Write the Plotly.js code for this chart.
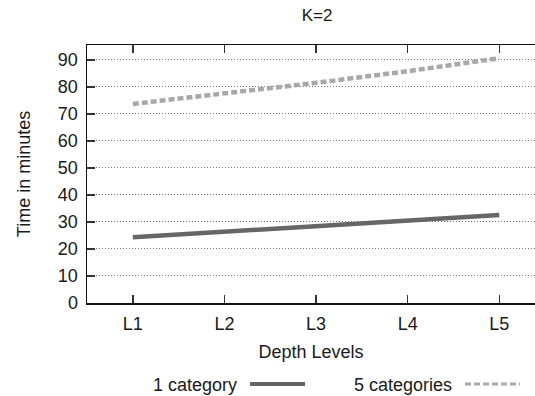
<!DOCTYPE html>
<html>
<head>
<meta charset="utf-8">
<script src="https://cdn.plot.ly/plotly-3.0.1.min.js"></script>
<style>html,body{margin:0;padding:0;background:#fff;overflow:hidden;}#chart{width:535px;height:396px;}</style>
</head>
<body>
<div id="chart"></div>
<script>
const levels = ["L1", "L2", "L3", "L4", "L5"];
const oneCategory = [24.3, 26.3, 28.3, 30.3, 32.6];
const fiveCategories = [73.7, 77.5, 81.5, 85.8, 90.6];
const seriesNames = ["1 category", "5 categories"];

const L = 87, T = 45, W = 448, H = 258;
const px = x => (x - L) / W;
const py = y => (T + H - y) / H;
const FS = 18;
const fam = 'Liberation Sans, Arial, sans-serif';
const tc = '#1a1a1a';

const traces = [
  {x: levels, y: oneCategory, name: seriesNames[0], type: 'scatter', mode: 'lines',
   line: {color: '#666666', width: 4.5}, showlegend: false},
  {x: levels, y: fiveCategories, name: seriesNames[1], type: 'scatter', mode: 'lines',
   line: {color: '#a8a8a8', width: 4.5, dash: '6px,3px'}, showlegend: false}
];

const layout = {
  width: 535, height: 396,
  margin: {l: L, r: 0, t: T, b: 396 - T - H},
  paper_bgcolor: '#fff', plot_bgcolor: '#fff',
  font: {family: fam, size: FS, color: tc},
  title: {text: 'K=2', x: 317/535, xanchor: 'center', y: 1 - 15/396, yanchor: 'middle', font: {family: fam, size: 17, color: tc}},
  xaxis: {
    type: 'category', range: [-0.5, 4.39],
    showline: true, linecolor: '#111', linewidth: 1.5, mirror: 'ticks',
    ticks: 'inside', ticklen: 8, tickwidth: 1.5, tickcolor: '#333',
    showgrid: false, zeroline: false,
    ticklabelstandoff: 4,
    tickfont: {family: fam, size: FS, color: tc},
    title: {text: 'Depth Levels', standoff: 12, font: {family: fam, size: FS, color: tc}}
  },
  yaxis: {
    range: [0, 95.5], dtick: 10, tick0: 0,
    showline: true, linecolor: '#111', linewidth: 1.5, mirror: false,
    ticks: 'inside', ticklen: 8, tickwidth: 1.5, tickcolor: '#333',
    showgrid: true, gridcolor: '#555', gridwidth: 0.8, griddash: '1px,2px',
    zeroline: false,
    ticklabelstandoff: 4,
    tickfont: {family: fam, size: FS, color: tc},
    title: {text: 'Time in minutes', standoff: 22, font: {family: fam, size: FS, color: tc}}
  },
  annotations: [
    {xref: 'paper', yref: 'paper', x: px(239), y: py(385), xanchor: 'right', yanchor: 'middle',
     text: seriesNames[0], showarrow: false, font: {family: fam, size: FS, color: tc}},
    {xref: 'paper', yref: 'paper', x: px(454), y: py(385), xanchor: 'right', yanchor: 'middle',
     text: seriesNames[1], showarrow: false, font: {family: fam, size: FS, color: tc}}
  ],
  shapes: [
    {type: 'line', xref: 'paper', yref: 'paper', x0: px(250), x1: px(305), y0: py(384), y1: py(384),
     line: {color: '#666666', width: 4}},
    {type: 'line', xref: 'paper', yref: 'paper', x0: px(465), x1: px(520), y0: py(384), y1: py(384),
     line: {color: '#a8a8a8', width: 3, dash: '6px,3px'}}
  ]
};

Plotly.newPlot('chart', traces, layout, {displayModeBar: false, staticPlot: true});
</script>
</body>
</html>
